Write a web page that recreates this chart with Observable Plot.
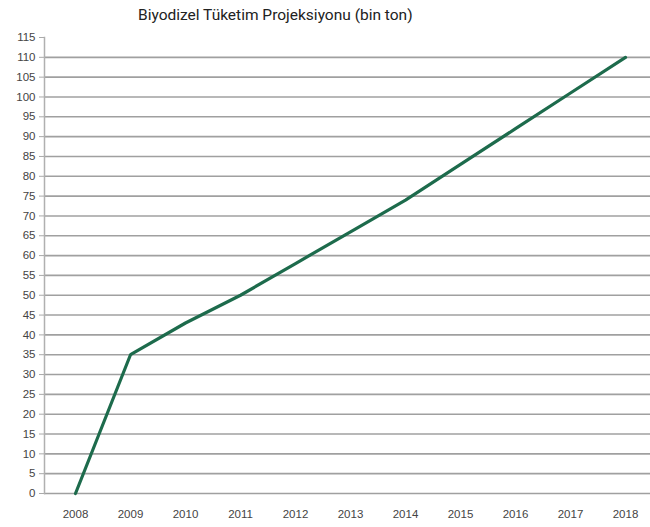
<!DOCTYPE html>
<html>
<head>
<meta charset="utf-8">
<script src="https://cdn.jsdelivr.net/npm/d3@7"></script>
<script src="https://cdn.jsdelivr.net/npm/@observablehq/plot@0.6"></script>
<style>
  html, body { margin: 0; padding: 0; background: #fff; }
  #title { height: 27px; box-sizing: border-box; padding-top: 6px; padding-left: 138px;
           font-family: Roboto, "Open Sans", sans-serif; font-size: 15.5px; color: #222; white-space: nowrap; }
  svg { display: block; }
</style>
</head>
<body>
<div id="title">Biyodizel Tüketim Projeksiyonu (bin ton)</div>
<div id="chart"></div>
<script>
const years = [2008, 2009, 2010, 2011, 2012, 2013, 2014, 2015, 2016, 2017, 2018];
const consumption = [0, 35, 43, 50, 58, 66, 74, 83, 92, 101, 110];
const yTicks = d3.range(0, 116, 5);
const gridTicks = d3.range(0, 111, 5);

const data = years.map((y, i) => ({year: y, value: consumption[i]}));

const chart = Plot.plot({
  width: 650,
  height: 500,
  marginTop: 10,
  marginBottom: 34,
  marginLeft: 44,
  marginRight: 0,
  style: {fontFamily: "'Liberation Sans', Arial, sans-serif", fontSize: "11.5px", color: "#444", background: "#fff"},
  x: {type: "point", domain: years, range: [72, 627], padding: 0},
  y: {domain: [0, 115]},
  marks: [
    Plot.gridY(gridTicks, {stroke: "#a0a0a0", strokeOpacity: 1, strokeWidth: 1.6}),
    Plot.frame({anchor: "left", stroke: "#b0b0b0", strokeWidth: 1.5}),
    Plot.axisY(yTicks, {tickSize: 5, tickPadding: 4, stroke: "#aaa", fill: "#444", label: null}),
    Plot.axisX(years, {tickSize: 0, tickPadding: 16, fill: "#444", label: null, tickFormat: d => String(d)}),
    Plot.line(data, {x: "year", y: "value", stroke: "#1d6b4c", strokeWidth: 3.2, strokeLinejoin: "miter"})
  ]
});
document.getElementById("chart").appendChild(chart);
</script>
</body>
</html>
